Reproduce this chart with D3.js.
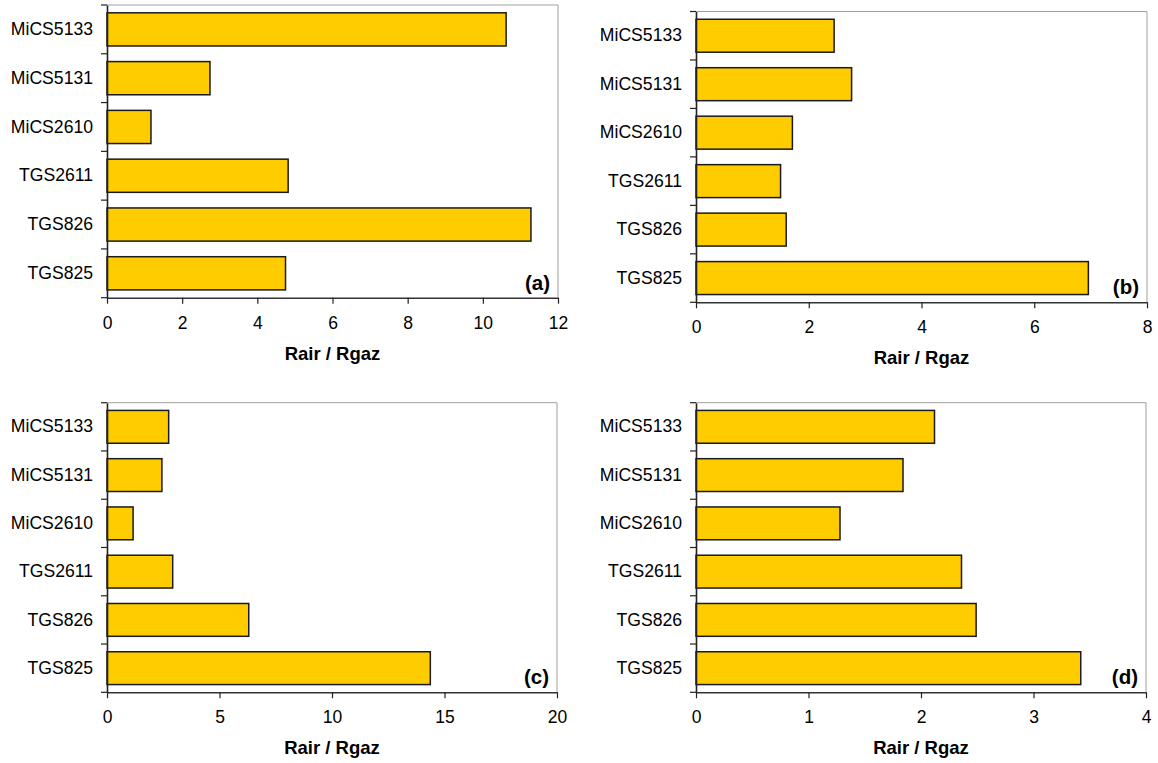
<!DOCTYPE html>
<html><head><meta charset="utf-8">
<script src="https://cdn.jsdelivr.net/npm/d3@7"></script>
<style>
html,body{margin:0;padding:0;background:#fff;}
svg{display:block;font-family:"Liberation Sans",Arial,sans-serif;}
</style></head>
<body>
<svg id="chart" width="1158" height="763"></svg>
<script>
const categories = ["MiCS5133","MiCS5131","MiCS2610","TGS2611","TGS826","TGS825"];
const valuesA = [10.62, 2.74, 1.17, 4.82, 11.28, 4.75];
const valuesB = [2.45, 2.76, 1.71, 1.50, 1.60, 6.96];
const valuesC = [2.74, 2.44, 1.16, 2.92, 6.30, 14.37];
const valuesD = [2.12, 1.84, 1.28, 2.36, 2.49, 3.42];
const ticksA = [0,2,4,6,8,10,12];
const ticksB = [0,2,4,6,8];
const ticksC = [0,5,10,15,20];
const ticksD = [0,1,2,3,4];
const panelLabels = ["(a)","(b)","(c)","(d)"];
const axisTitle = "Rair / Rgaz";

const panels = [
  {vals: valuesA, ticks: ticksA, label: panelLabels[0], x0:107, x1:558, y0:5,   y1:297.7},
  {vals: valuesB, ticks: ticksB, label: panelLabels[1], x0:696, x1:1147, y0:11.5, y1:302.3},
  {vals: valuesC, ticks: ticksC, label: panelLabels[2], x0:107, x1:557, y0:402.7, y1:692.3},
  {vals: valuesD, ticks: ticksD, label: panelLabels[3], x0:696, x1:1146, y0:402.7, y1:692.3}
];

const svg = d3.select("#chart");

panels.forEach(p => {
  const g = svg.append("g");
  const x = d3.scaleLinear().domain([p.ticks[0], p.ticks[p.ticks.length-1]]).range([p.x0, p.x1]);
  const y = d3.scaleBand().domain(categories).range([p.y0, p.y1]).paddingInner(0.32).paddingOuter(0.16);

  // top & right border (light)
  g.append("line").attr("x1", p.x0).attr("x2", p.x1).attr("y1", p.y0).attr("y2", p.y0)
    .attr("stroke", "#a0a0a0").attr("stroke-width", 1);
  g.append("line").attr("x1", p.x1).attr("x2", p.x1).attr("y1", p.y0).attr("y2", p.y1)
    .attr("stroke", "#a0a0a0").attr("stroke-width", 1);

  // bars
  g.selectAll("rect.bar").data(categories).join("rect")
    .attr("class","bar")
    .attr("x", x(0))
    .attr("y", c => y(c))
    .attr("width", (c,i) => x(p.vals[i]) - x(0))
    .attr("height", y.bandwidth())
    .attr("fill", "#FFCC00")
    .attr("stroke", "#1a1a1a")
    .attr("stroke-width", 1.5);

  // x axis
  const xAxis = d3.axisBottom(x).tickValues(p.ticks).tickSize(6).tickSizeOuter(0).tickFormat(d3.format("d"));
  const xg = g.append("g").attr("transform", `translate(0,${p.y1})`).call(xAxis);
  xg.select(".domain").attr("stroke", "#333").attr("stroke-width", 1.6);
  xg.selectAll(".tick line").attr("stroke", "#222").attr("stroke-width", 1.2);
  xg.selectAll(".tick text").attr("font-size", 17.5).attr("fill", "#000").attr("dy", null).attr("y", 31)
    .attr("font-family", "Liberation Sans, Arial, sans-serif");

  // y axis: ticks at band boundaries
  const yAxis = d3.axisLeft(y).tickSize(0).tickPadding(14);
  const yg = g.append("g").attr("transform", `translate(${p.x0},0)`).call(yAxis);
  yg.select(".domain").attr("stroke", "#222").attr("stroke-width", 1.6);
  yg.selectAll(".tick text").attr("font-size", 17.6).attr("fill", "#000")
    .attr("font-family", "Liberation Sans, Arial, sans-serif");
  const bounds = categories.map(c => y(c) - y.step()*y.paddingInner()/2);
  bounds[0] = p.y0;
  bounds.push(p.y1);
  g.selectAll("line.ytick").data(bounds).join("line")
    .attr("class","ytick")
    .attr("x1", p.x0 - 6).attr("x2", p.x0)
    .attr("y1", d => d).attr("y2", d => d)
    .attr("stroke", "#222").attr("stroke-width", 1.2);

  // panel label
  g.append("text").attr("x", p.x1 - 8).attr("y", p.y1 - 8)
    .attr("text-anchor", "end").attr("font-size", 20.5).attr("font-weight", "bold")
    .attr("fill", "#000").text(p.label);

  // axis title
  g.append("text").attr("x", (p.x0 + p.x1)/2).attr("y", p.y1 + 62)
    .attr("text-anchor", "middle").attr("font-size", 18.5).attr("font-weight", "bold")
    .attr("fill", "#000").text(axisTitle);
});
</script>
</body></html>
